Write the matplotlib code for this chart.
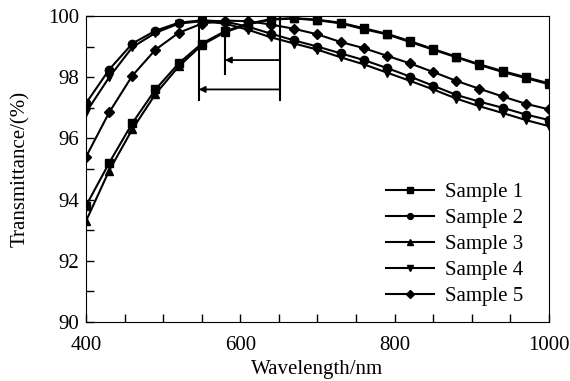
import matplotlib
matplotlib.use('Agg')
import matplotlib.pyplot as plt
from matplotlib.ticker import MultipleLocator

plt.rcParams['font.family'] = ['Liberation Serif', 'DejaVu Serif']
plt.rcParams['font.size'] = 15

# wavelength points (nm)
wl = [400, 430, 460, 490, 520, 550, 580, 610, 640, 670, 700,
      730, 760, 790, 820, 850, 880, 910, 940, 970, 1000]

# transmittance (%)
s1 = [93.8, 95.2, 96.5, 97.6, 98.45, 99.1, 99.5, 99.75, 99.9, 99.93, 99.88,
      99.78, 99.6, 99.42, 99.18, 98.92, 98.67, 98.42, 98.2, 98.0, 97.8]
s2 = [97.15, 98.25, 99.1, 99.52, 99.78, 99.86, 99.82, 99.65, 99.42, 99.2, 99.0,
      98.78, 98.56, 98.3, 98.02, 97.72, 97.42, 97.2, 97.0, 96.78, 96.6]
s3 = [93.3, 94.95, 96.3, 97.45, 98.35, 99.05, 99.47, 99.73, 99.88, 99.92, 99.86,
      99.76, 99.57, 99.4, 99.15, 98.9, 98.65, 98.4, 98.17, 97.97, 97.77]
s4 = [96.85, 98.0, 98.98, 99.45, 99.75, 99.83, 99.75, 99.55, 99.3, 99.1, 98.9,
      98.65, 98.42, 98.15, 97.88, 97.6, 97.3, 97.05, 96.83, 96.6, 96.4]
s5 = [95.4, 96.85, 98.05, 98.9, 99.45, 99.75, 99.85, 99.83, 99.72, 99.58, 99.4,
      99.15, 98.95, 98.7, 98.45, 98.17, 97.88, 97.62, 97.37, 97.13, 96.95]

series = [s1, s2, s3, s4, s5]
labels = ['Sample 1', 'Sample 2', 'Sample 3', 'Sample 4', 'Sample 5']
markers = ['s', 'o', '^', 'v', 'D']

# peak positions (nm) and marker-line ends
peaks = [546, 580, 651]
peak_ends = [97.25, 98.1, 97.25]
arrow_y = [98.56, 97.6]   # arrows from 651 -> 580 and 651 -> 546

fig = plt.figure(figsize=(5.7, 3.81), dpi=100)
ax = fig.add_axes([0.151, 0.155, 0.812, 0.803])

for y, lab, m in zip(series, labels, markers):
    ms = 5.5 if m == 'D' else 6
    ax.plot(wl, y, color='black', lw=1.5, marker=m, markersize=ms, label=lab)

for x, yb in zip(peaks, peak_ends):
    ax.plot([x, x], [100, yb], color='black', lw=1.5)
ax.annotate('', xy=(peaks[1], arrow_y[0]), xytext=(peaks[2], arrow_y[0]),
            arrowprops=dict(arrowstyle='-|>', color='black', lw=1.3,
                            mutation_scale=9, shrinkA=0, shrinkB=0))
ax.annotate('', xy=(peaks[0], arrow_y[1]), xytext=(peaks[2], arrow_y[1]),
            arrowprops=dict(arrowstyle='-|>', color='black', lw=1.3,
                            mutation_scale=9, shrinkA=0, shrinkB=0))

ax.set_xlim(400, 1000)
ax.set_ylim(90, 100)
ax.xaxis.set_major_locator(MultipleLocator(200))
ax.xaxis.set_minor_locator(MultipleLocator(50))
ax.yaxis.set_major_locator(MultipleLocator(2))
ax.yaxis.set_minor_locator(MultipleLocator(1))
ax.tick_params(which='both', direction='in', top=False, right=False,
               length=6, width=1)
ax.tick_params(axis='x', which='major', pad=10)
ax.tick_params(axis='y', which='major', pad=5)
ax.set_xlabel('Wavelength/nm', labelpad=4)
ax.set_ylabel('Transmittance/(%)', labelpad=13)

leg = ax.legend(loc='lower right', bbox_to_anchor=(0.975, 0.005),
                frameon=False, handlelength=2.3,
                labelspacing=0.3, markerscale=0.7, borderaxespad=0.3,
                handletextpad=0.5)

fig.savefig('out.png', dpi=100)
